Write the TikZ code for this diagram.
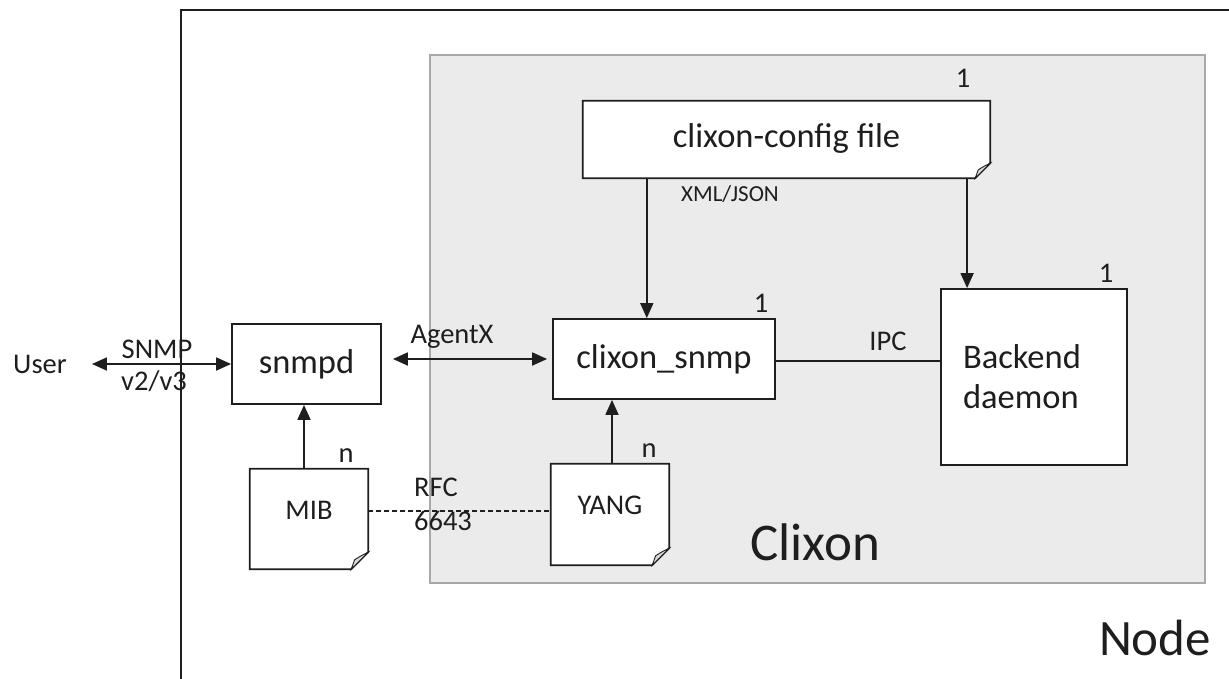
\documentclass[tikz,border=0pt]{standalone}
\usepackage{fontspec}
\setmainfont{Carlito}
\usetikzlibrary{arrows.meta,calc}
\pgfdeclarelayer{bg}\pgfdeclarelayer{mid}\pgfsetlayers{bg,mid,main}
\definecolor{clxgray}{HTML}{EBEBEB}
\definecolor{clxedge}{HTML}{A8A8A8}
\definecolor{ink}{HTML}{1E1E1E}
\tikzset{
 box/.style={draw=ink, line width=1.8pt, fill=white, rectangle, inner sep=0pt, font=\fontsize{34.5}{40}\selectfont, text=ink},
 docbox/.style={rectangle, inner sep=0pt, font=\fontsize{28.5}{34}\selectfont, text=ink, text height=10pt, text depth=10pt},
 lbl/.style={inner sep=0pt, anchor=base, font=\fontsize{28.5}{34}\selectfont, text=ink},
 tip/.tip={Triangle[length=15pt,width=13pt]},
 arr/.style={draw=ink, line width=1.8pt, -tip},
 dblarr/.style={draw=ink, line width=1.8pt, tip-tip},
}
\newcommand{\docoutline}[2]{%
 \begin{pgfonlayer}{mid}
 \fill[white] (#1.north west) -- (#1.north east) -- ([yshift=#2pt]#1.south east) -- ([xshift=-#2pt]#1.south east) -- (#1.south west) -- cycle;
 \end{pgfonlayer}
 \draw[ink, line width=1.8pt, line join=miter] (#1.north west) -- (#1.north east) -- ([yshift=#2pt]#1.south east) -- ([xshift=-#2pt]#1.south east) -- (#1.south west) -- cycle;
 \draw[ink, line width=0.9pt, fill=gray!30] ([yshift=#2pt]#1.south east) .. controls ([xshift={-0.5*#2},yshift={0.75*#2}]#1.south east) .. ([xshift={-0.8*#2},yshift={0.55*#2}]#1.south east) -- ([xshift=-#2pt]#1.south east) -- cycle;
}
\begin{document}
\begin{tikzpicture}[x=1pt,y=-1pt]
\useasboundingbox (0,0) rectangle (1229,679);
% outer Node frame
\draw[ink, line width=1.8pt] (181,679) -- (181,10) -- (1229,10);
% Clixon area
\begin{pgfonlayer}{bg}
\node[draw=clxedge, fill=clxgray, line width=1.5pt, minimum width=775pt, minimum height=528pt, inner sep=0pt] (clixon) at (817.5,319) {};
\end{pgfonlayer}
% boxes
\node[box, minimum width=222pt, minimum height=80pt] (csnmp) at (664,359) {clixon\_snmp};
\node[box, minimum width=186pt, minimum height=176pt, text width=142pt, inner xsep=22pt, align=left] (backend) at (1034,377) {Backend\\daemon};
\node[box, minimum width=149pt, minimum height=80pt] (snmpd) at (306.5,364) {snmpd};
% documents
\node[docbox, minimum width=407pt, minimum height=77pt, font=\fontsize{34.5}{40}\selectfont, text height=22pt, text depth=6pt] (cfg) at (786.5,139.5) {clixon-config file};
\node[docbox, minimum width=118pt, minimum height=100pt] (mib) at (309,519) {MIB};
\node[docbox, minimum width=118pt, minimum height=101pt] (yang) at (610,514.5) {YANG};
\docoutline{cfg}{15}
\docoutline{mib}{17}
\docoutline{yang}{17}
% user
\node[lbl, anchor=center, inner xsep=25pt, inner ysep=0pt] (user) at (40,364) {User};
% connectors
\draw[dblarr] (user.east |- snmpd.west) -- (snmpd.west);
\draw[dblarr, shorten <=11pt, shorten >=5pt] (snmpd.east |- csnmp.west) -- (csnmp.west);
\draw[arr] ([xshift=64pt]cfg.south west) -- ([xshift=64pt]cfg.south west |- csnmp.north);
\draw[arr] ([xshift=27pt]backend.north west |- cfg.south) -- ([xshift=27pt]backend.north west);
\draw[ink, line width=1.8pt] (csnmp.east |- 0,361) -- (backend.west |- 0,361);
\draw[arr] ([xshift=-5pt]mib.north) -- ([xshift=-5pt]mib.north |- snmpd.south);
\draw[arr] ([xshift=2pt]yang.north) -- ([xshift=2pt]yang.north |- csnmp.south);
\draw[ink, line width=1.4pt, dash pattern=on 5pt off 3pt] ([yshift=8pt]mib.east) -- ([yshift=8pt]mib.east -| yang.west);
% labels
\node[lbl] (lsnmp) at (157,358) {SNMP};
\node[lbl] (lv) at (154,390) {v2/v3};
\node[lbl] (lagentx) at (452,343) {AgentX};
\node[lbl] (lrfc) at (436,496) {RFC};
\node[lbl] (l6643) at (443,530) {6643};
\node[lbl] (nmib) at (346,462) {n};
\node[lbl] (nyang) at (649,457) {n};
\node[lbl] (lipc) at (888,350) {IPC};
\node[lbl, font=\fontsize{23}{28}\selectfont] (lxml) at (730,202) {XML/JSON};
\node[lbl] (onecfg) at (963,88) {1};
\node[lbl] (onesnmp) at (761,312) {1};
\node[lbl] (oneback) at (1106,282) {1};
\node[lbl, font=\fontsize{53}{60}\selectfont] (lclixon) at (815,560) {Clixon};
\node[lbl, font=\fontsize{51}{60}\selectfont] (lnode) at (1155,655) {Node};
\end{tikzpicture}
\end{document}
